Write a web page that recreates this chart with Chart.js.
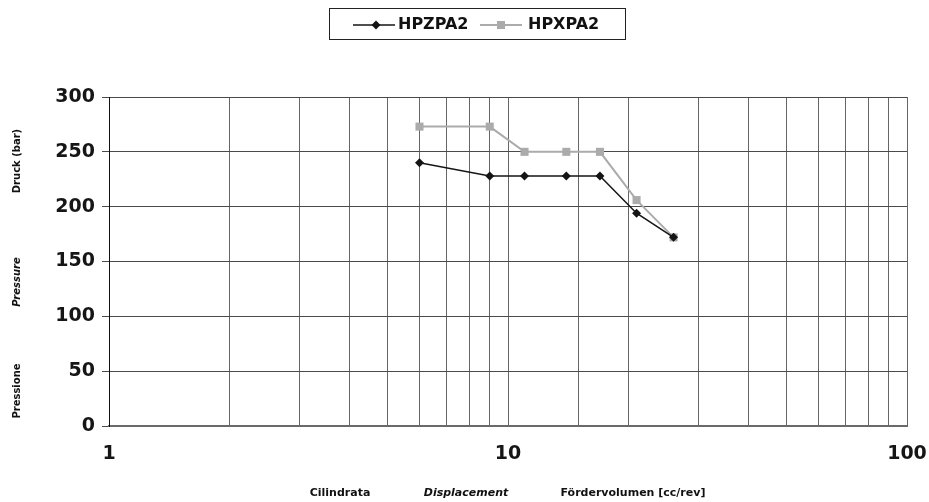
<!DOCTYPE html>
<html>
<head>
<meta charset="utf-8">
<script src="https://cdn.jsdelivr.net/npm/chart.js@4.4.1/dist/chart.umd.min.js"></script>
<style>
  html, body { margin: 0; padding: 0; background: #fff; }
  #wrap { width: 929px; height: 502px; }
</style>
</head>
<body>
<div id="wrap"><canvas id="pressureChart" width="929" height="502"></canvas></div>
<script>
// Datos
const displacement = [6, 9, 11, 14, 17, 21, 26];
const hpzpa2 = [240, 228, 228, 228, 228, 194, 172];
const hpxpa2 = [273, 273, 250, 250, 250, 206, 172];
const seriesNames = ['HPZPA2', 'HPXPA2'];
const xLabelTicks = [1, 10, 100];
const yTitles = ['Druck (bar)', 'Pressure', 'Pressione'];
const xTitles = ['Cilindrata', 'Displacement', 'Fördervolumen [cc/rev]'];

const FONT = '"DejaVu Sans", "Liberation Sans", Arial, sans-serif';
const BLACK = '#151515';
const GREY = '#ababab';

const toPoints = (ys) => displacement.map((x, i) => ({ x: x, y: ys[i] }));

// Leyenda con recuadro y títulos de ejes (tres idiomas)
const decorPlugin = {
    id: 'decor',
    afterDraw(chart) {
        const ctx = chart.ctx;
        ctx.save();

        // recuadro de la leyenda
        ctx.strokeStyle = '#222';
        ctx.lineWidth = 1;
        ctx.strokeRect(329.5, 8.5, 296, 31);

        ctx.font = 'bold 16px ' + FONT;
        ctx.textBaseline = 'middle';
        ctx.textAlign = 'left';

        // serie 1
        ctx.strokeStyle = BLACK;
        ctx.lineWidth = 1.5;
        ctx.beginPath(); ctx.moveTo(353, 25); ctx.lineTo(395, 25); ctx.stroke();
        ctx.fillStyle = BLACK;
        ctx.beginPath();
        ctx.moveTo(376 - 4.5, 25); ctx.lineTo(376, 25 - 4.5);
        ctx.lineTo(376 + 4.5, 25); ctx.lineTo(376, 25 + 4.5);
        ctx.closePath(); ctx.fill();
        ctx.fillStyle = '#111';
        ctx.fillText(seriesNames[0], 398, 25);

        // serie 2
        ctx.strokeStyle = GREY;
        ctx.lineWidth = 2;
        ctx.beginPath(); ctx.moveTo(480, 25); ctx.lineTo(522, 25); ctx.stroke();
        ctx.fillStyle = GREY;
        ctx.fillRect(497, 21, 8, 8);
        ctx.fillStyle = '#111';
        ctx.fillText(seriesNames[1], 528, 25);

        // títulos eje Y
        const yPos = [161, 282, 391];
        yTitles.forEach((t, i) => {
            ctx.save();
            ctx.translate(17, yPos[i]);
            ctx.rotate(-Math.PI / 2);
            ctx.textAlign = 'center';
            ctx.font = (i === 1 ? 'italic ' : '') + 'bold 10px ' + FONT;
            ctx.fillStyle = '#111';
            ctx.fillText(t, 0, 0);
            ctx.restore();
        });

        // títulos eje X
        const xPos = [340, 466, 633];
        xTitles.forEach((t, i) => {
            ctx.textAlign = 'center';
            ctx.font = (i === 1 ? 'italic ' : '') + 'bold 11px ' + FONT;
            ctx.fillStyle = '#111';
            ctx.fillText(t, xPos[i], 493);
        });

        ctx.restore();
    }
};

const ctx = document.getElementById('pressureChart');
const pressureChart = new Chart(ctx, {
    type: 'line',
    data: {
        datasets: [
            {
                label: seriesNames[0],
                data: toPoints(hpzpa2),
                borderColor: BLACK,
                backgroundColor: BLACK,
                borderWidth: 1.5,
                pointStyle: 'rectRot',
                pointRadius: 4.5,
                pointBorderWidth: 0,
                tension: 0
            },
            {
                label: seriesNames[1],
                data: toPoints(hpxpa2),
                borderColor: GREY,
                backgroundColor: GREY,
                borderWidth: 2,
                pointStyle: 'rect',
                pointRadius: 5.7,
                pointBorderWidth: 0,
                tension: 0
            }
        ]
    },
    options: {
        responsive: false,
        animation: false,
        devicePixelRatio: 1,
        layout: { padding: { left: 0, right: 22, top: 97, bottom: 0 } },
        plugins: {
            legend: { display: false },
            tooltip: { enabled: false }
        },
        scales: {
            x: {
                type: 'logarithmic',
                min: 1,
                max: 100,
                afterFit: (scale) => {
                    scale.height = 76;
                    scale.paddingLeft = 0;
                    scale.paddingRight = 0;
                },
                grid: { color: '#666', lineWidth: 1, drawTicks: false },
                border: { color: '#6a6a6a', width: 2 },
                ticks: {
                    autoSkip: false,
                    maxRotation: 0,
                    padding: 17,
                    color: '#161616',
                    font: { family: FONT, size: 19, weight: 'bold' },
                    callback: (value) => xLabelTicks.includes(value) ? String(value) : ''
                }
            },
            y: {
                min: 0,
                max: 300,
                afterFit: (scale) => { scale.width = 109; },
                grid: { color: '#4a4a4a', lineWidth: 1, tickLength: 7 },
                border: { color: '#111', width: 1 },
                ticks: {
                    stepSize: 50,
                    padding: 7,
                    color: '#161616',
                    font: { family: FONT, size: 19, weight: 'bold' }
                }
            }
        }
    },
    plugins: [decorPlugin]
});
</script>
</body>
</html>
